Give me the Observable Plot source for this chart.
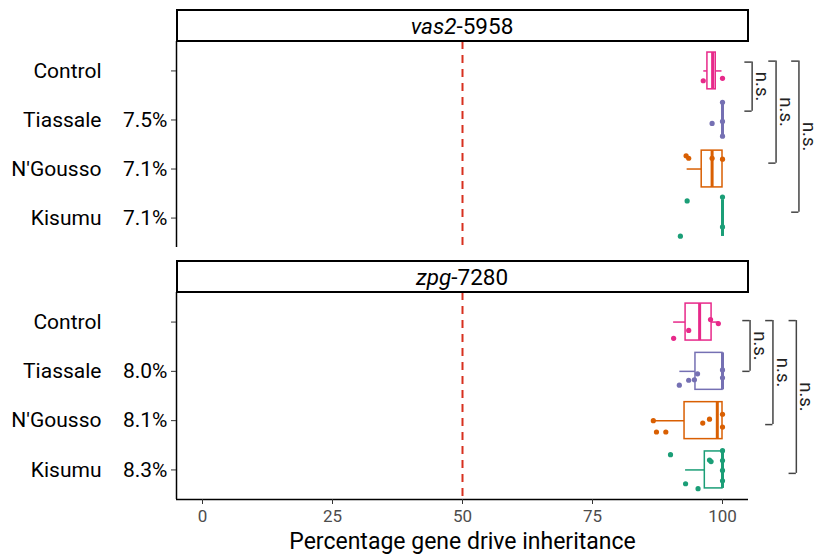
<!DOCTYPE html>
<html><head><meta charset="utf-8">
<script src="https://cdn.jsdelivr.net/npm/d3@7"></script>
<script src="https://cdn.jsdelivr.net/npm/@observablehq/plot@0.6"></script>
<style>
body{margin:0;background:#fff;font-family:Roboto,sans-serif}
#chart svg{display:block}
</style></head><body><div id="chart"></div>
<script>
// ---- data ----
const genes = ["vas2-5958", "zpg-7280"];
const geneItalic = ["vas2", "zpg"];
const geneSuffix = ["-5958", "-7280"];
const groups = ["Control", "Tiassale", "N'Gousso", "Kisumu"];
const groupColors = ["#E7298A", "#7570B3", "#D95F02", "#1B9E77"];
const ratesVas2 = ["", "7.5%", "7.1%", "7.1%"];
const ratesZpg = ["", "8.0%", "8.1%", "8.3%"];
const xTicks = [0, 25, 50, 75, 100];
const threshold = [50];

// box statistics (percentage gene drive inheritance)
const boxGene  = ["vas2-5958","vas2-5958","vas2-5958","vas2-5958","zpg-7280","zpg-7280","zpg-7280","zpg-7280"];
const boxGroup = ["Control","Tiassale","N'Gousso","Kisumu","Control","Tiassale","N'Gousso","Kisumu"];
const boxLo  = [96.4, 100, 93.2, 100, 90.6, 91.8, 86.7, 92.9];
const boxQ1  = [97.1, 100, 96.0, 100, 92.9, 94.8, 92.7, 96.6];
const boxMed = [98.1, 100, 98.0, 100, 95.6, 100, 99.0, 100];
const boxQ3  = [98.7, 100, 100, 100, 97.9, 100, 100, 100];
const boxHi  = [99.9, 100, 100, 100, 99.3, 100, 100, 100];

// individual replicate points (value, vertical jitter in category units)
const ptGene = [
  "vas2-5958","vas2-5958",
  "vas2-5958","vas2-5958","vas2-5958","vas2-5958",
  "vas2-5958","vas2-5958","vas2-5958","vas2-5958",
  "vas2-5958","vas2-5958","vas2-5958","vas2-5958",
  "zpg-7280","zpg-7280","zpg-7280","zpg-7280",
  "zpg-7280","zpg-7280","zpg-7280","zpg-7280","zpg-7280","zpg-7280",
  "zpg-7280","zpg-7280","zpg-7280","zpg-7280","zpg-7280","zpg-7280","zpg-7280",
  "zpg-7280","zpg-7280","zpg-7280","zpg-7280","zpg-7280","zpg-7280","zpg-7280","zpg-7280","zpg-7280"
];
const ptGroup = [
  "Control","Control",
  "Tiassale","Tiassale","Tiassale","Tiassale",
  "N'Gousso","N'Gousso","N'Gousso","N'Gousso",
  "Kisumu","Kisumu","Kisumu","Kisumu",
  "Control","Control","Control","Control",
  "Tiassale","Tiassale","Tiassale","Tiassale","Tiassale","Tiassale",
  "N'Gousso","N'Gousso","N'Gousso","N'Gousso","N'Gousso","N'Gousso","N'Gousso",
  "Kisumu","Kisumu","Kisumu","Kisumu","Kisumu","Kisumu","Kisumu","Kisumu","Kisumu"
];
const ptValue = [
  96.3, 100,
  100, 100, 100, 98.0,
  93.0, 93.5, 98.0, 100,
  100, 100, 93.2, 91.9,
  90.6, 93.5, 97.7, 99.2,
  91.7, 93.5, 94.6, 95.2, 100, 100,
  86.7, 87.3, 89.1, 96.2, 97.5, 100, 100,
  90.0, 97.5, 97.8, 92.9, 95.3, 100, 100, 100, 100
];
const ptJitter = [
  0.20, 0.15,
  -0.36, 0.03, 0.33, 0.07,
  -0.27, -0.22, -0.22, -0.20,
  -0.43, 0.18, -0.35, 0.37,
  0.33, 0.17, -0.05, 0.03,
  0.28, 0.18, 0.17, 0.05, -0.03, 0.13,
  0.00, 0.23, 0.23, 0.05, -0.03, -0.13, 0.13,
  -0.31, -0.20, -0.17, 0.28, 0.38, -0.39, -0.19, 0.01, 0.22
];

// significance brackets (y in category units, x in data units)
const brGene  = ["vas2-5958","vas2-5958","vas2-5958","zpg-7280","zpg-7280","zpg-7280"];
const brTop   = [-0.18, -0.20, -0.20, -0.03, -0.03, -0.03];
const brBottom= [0.82, 1.88, 2.88, 1.00, 2.08, 3.07];
const brX     = [105.7, 110.3, 114.7, 105.3, 109.7, 114.2];
const brLabel = ["n.s.","n.s.","n.s.","n.s.","n.s.","n.s."];

// ---- build ----
const boxes = boxGroup.map((g, k) => ({gene: boxGene[k], g, i: groups.indexOf(g),
  lo: boxLo[k], q1: boxQ1[k], med: boxMed[k], q3: boxQ3[k], hi: boxHi[k]}));
const points = ptValue.map((v, k) => ({gene: ptGene[k], g: ptGroup[k], i: groups.indexOf(ptGroup[k]), v, j: ptJitter[k]}));
const brackets = brX.map((x, k) => ({gene: brGene[k], x, y1: brTop[k], y2: brBottom[k], label: brLabel[k]}));

function panel(gi, bottom) {
  const gene = genes[gi];
  const B = boxes.filter(d => d.gene === gene);
  const P = points.filter(d => d.gene === gene);
  const R = brackets.filter(d => d.gene === gene);
  const rates = gi === 0 ? ratesVas2 : ratesZpg;
  const marks = [
    Plot.ruleX(threshold, {stroke: "#D7301F", strokeWidth: 2, strokeDasharray: "8,6"}),
    Plot.ruleY(B, {y: "i", x1: "lo", x2: "q1", stroke: "g", strokeWidth: 1.5}),
    Plot.ruleY(B, {y: "i", x1: "q3", x2: "hi", stroke: "g", strokeWidth: 1.5}),
    Plot.rect(B, {x1: "q1", x2: "q3", y1: d => d.i - 0.375, y2: d => d.i + 0.375, fill: "white", stroke: "g", strokeWidth: 1.5}),
    Plot.ruleX(B, {x: "med", y1: d => d.i - 0.375, y2: d => d.i + 0.375, stroke: "g", strokeWidth: 3}),
    Plot.dot(P, {x: "v", y: d => d.i + d.j, r: 2.6, fill: "g", stroke: null}),
    // brackets
    Plot.ruleX(R, {x: "x", y1: "y1", y2: "y2", stroke: "#444", strokeWidth: 1.5}),
    Plot.ruleY(R, {y: "y1", x1: d => d.x - 1.4, x2: "x", stroke: "#444", strokeWidth: 1.5}),
    Plot.ruleY(R, {y: "y2", x1: d => d.x - 1.4, x2: "x", stroke: "#444", strokeWidth: 1.5}),
    Plot.text(R, {x: d => d.x + 0.75, y: d => (d.y1 + d.y2) / 2, text: "label", rotate: 90, lineAnchor: "bottom", textAnchor: "middle", fontSize: 18.5, fill: "#222"}),
    // axes
    Plot.ruleX([-5], {stroke: "black", strokeWidth: 1.5}),
    Plot.axisY([0, 1, 2, 3], {tickFormat: d => rates[d], tickSize: 5, tickPadding: 4, fontSize: 21, color: "black", stroke: "#333", label: null}),
    Plot.axisY([0, 1, 2, 3], {tickFormat: d => groups[d], tickSize: 0, tickPadding: 75, fontSize: 21, color: "black", label: null})
  ];
  if (bottom) {
    marks.push(
      Plot.ruleY([3.6], {stroke: "black", strokeWidth: 1.5}),
      Plot.axisX(xTicks, {tickSize: 5, tickPadding: 5, fontSize: 17, color: "#4D4D4D", stroke: "#333", label: null}),
      Plot.text(["Percentage gene drive inheritance"], {frameAnchor: "bottom", dy: 49, fontSize: 23, fill: "black"})
    );
  }
  const svg = Plot.plot({
    width: 819,
    height: bottom ? 308 : 252,
    marginLeft: 176,
    marginRight: 71,
    marginTop: bottom ? 40 : 41,
    marginBottom: bottom ? 61 : 5,
    x: {domain: [-5, 105], axis: bottom ? undefined : null},
    y: {domain: [3.6, -0.6]},
    color: {domain: groups, range: groupColors},
    style: {fontFamily: "Roboto", fontSize: "20px", background: "white", overflow: "visible"},
    marks
  });
  // facet strip
  const [x0, x1] = [176, 748];
  const y0 = bottom ? 9 : 10, y1 = bottom ? 40 : 41;
  const s = d3.select(svg);
  s.append("rect").attr("x", x0 + 1).attr("y", y0).attr("width", x1 - x0 - 1).attr("height", y1 - y0)
    .attr("fill", "white").attr("stroke", "black").attr("stroke-width", 2);
  const t = s.append("text").attr("x", (x0 + x1) / 2).attr("y", (y0 + y1) / 2).attr("dy", "0.36em")
    .attr("text-anchor", "middle").style("font-size", "22.5px").style("font-family", "Roboto").attr("fill", "black");
  t.append("tspan").style("font-style", "italic").text(geneItalic[gi]);
  t.append("tspan").text(geneSuffix[gi]);
  return svg;
}

const root = document.getElementById("chart");
root.appendChild(panel(0, false));
root.appendChild(panel(1, true));
</script>
</body></html>
